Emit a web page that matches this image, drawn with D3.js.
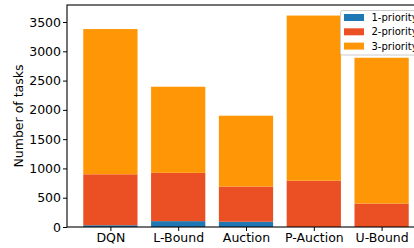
<!DOCTYPE html>
<html><head><meta charset="utf-8">
<script src="https://cdn.jsdelivr.net/npm/d3@7"></script>
<style>body{margin:0;background:#fff}svg{display:block}</style>
</head><body>
<svg id="c" width="414" height="248"></svg>
<script>
const categories = ["DQN", "L-Bound", "Auction", "P-Auction", "U-Bound"];
const seriesNames = ["1-priority", "2-priority", "3-priority"];
const p1 = [30, 100, 90, 0, 0];
const p2 = [870, 825, 600, 790, 400];
const p3 = [2480, 1470, 1210, 2820, 2490];
const yTicks = [0, 500, 1000, 1500, 2000, 2500, 3000, 3500];
const colors = ["#1f77b4", "#eb5024", "#ff9605"];

const svg = d3.select("#c");
const L = 67, R = 425, T = 5, B = 227;
const font = "DejaVu Sans, sans-serif";

const rows = categories.map((c, i) => ({cat: c, "1-priority": p1[i], "2-priority": p2[i], "3-priority": p3[i]}));
const stacked = d3.stack().keys(seriesNames)(rows);
const maxTotal = d3.max(rows, r => r["1-priority"] + r["2-priority"] + r["3-priority"]);

const xi = d3.scaleLinear().domain([-0.64, categories.length - 1 + 0.64]).range([L, R]);
const bw = xi(0.8) - xi(0);
const y = d3.scaleLinear().domain([0, maxTotal * 1.05]).range([B, T]);

const g = svg.append("g");
stacked.forEach((s, si) => {
  g.selectAll(null).data(s).enter().append("rect")
    .attr("x", (d, i) => xi(i) - bw / 2)
    .attr("width", bw)
    .attr("y", d => y(d[1]))
    .attr("height", d => Math.max(0, y(d[0]) - y(d[1])))
    .attr("fill", colors[si]);
});

const ya = svg.append("g").attr("transform", `translate(${L},0)`)
  .call(d3.axisLeft(y).tickValues(yTicks).tickFormat(d3.format("d")).tickSize(4).tickPadding(2));
ya.select(".domain").remove();
ya.selectAll("text").attr("font-family", font).attr("font-size", 12.5).attr("fill", "#000");
ya.selectAll("line").attr("stroke", "#000").attr("stroke-width", 1);

const xa = svg.append("g").attr("transform", `translate(0,${B})`)
  .call(d3.axisBottom(xi).tickValues(d3.range(categories.length)).tickFormat(i => categories[i]).tickSize(4).tickPadding(2));
xa.select(".domain").remove();
xa.selectAll("text").attr("font-family", font).attr("font-size", 12.5).attr("fill", "#000");
xa.selectAll("line").attr("stroke", "#000").attr("stroke-width", 1);

svg.append("rect").attr("x", L).attr("y", T).attr("width", R - L).attr("height", B - T)
  .attr("fill", "none").attr("stroke", "#000").attr("stroke-width", 1.1);

svg.append("text").attr("transform", `translate(23,${(T + B) / 2}) rotate(-90)`)
  .attr("text-anchor", "middle").attr("font-family", font).attr("font-size", 12.5)
  .text("Number of tasks");

const lg = svg.append("g");
lg.append("rect").attr("x", 340.5).attr("y", 10.5).attr("width", 90).attr("height", 44.5)
  .attr("rx", 2).attr("fill", "#fff").attr("fill-opacity", 0.8).attr("stroke", "#ccc").attr("stroke-width", 1);
seriesNames.forEach((n, i) => {
  const cy = 17.5 + i * 14.3;
  lg.append("rect").attr("x", 344).attr("y", cy - 3.5).attr("width", 20).attr("height", 7).attr("fill", colors[i]);
  lg.append("text").attr("x", 371.5).attr("y", cy + 3.5).attr("font-family", font).attr("font-size", 10)
    .text(n);
});
</script>
</body></html>
